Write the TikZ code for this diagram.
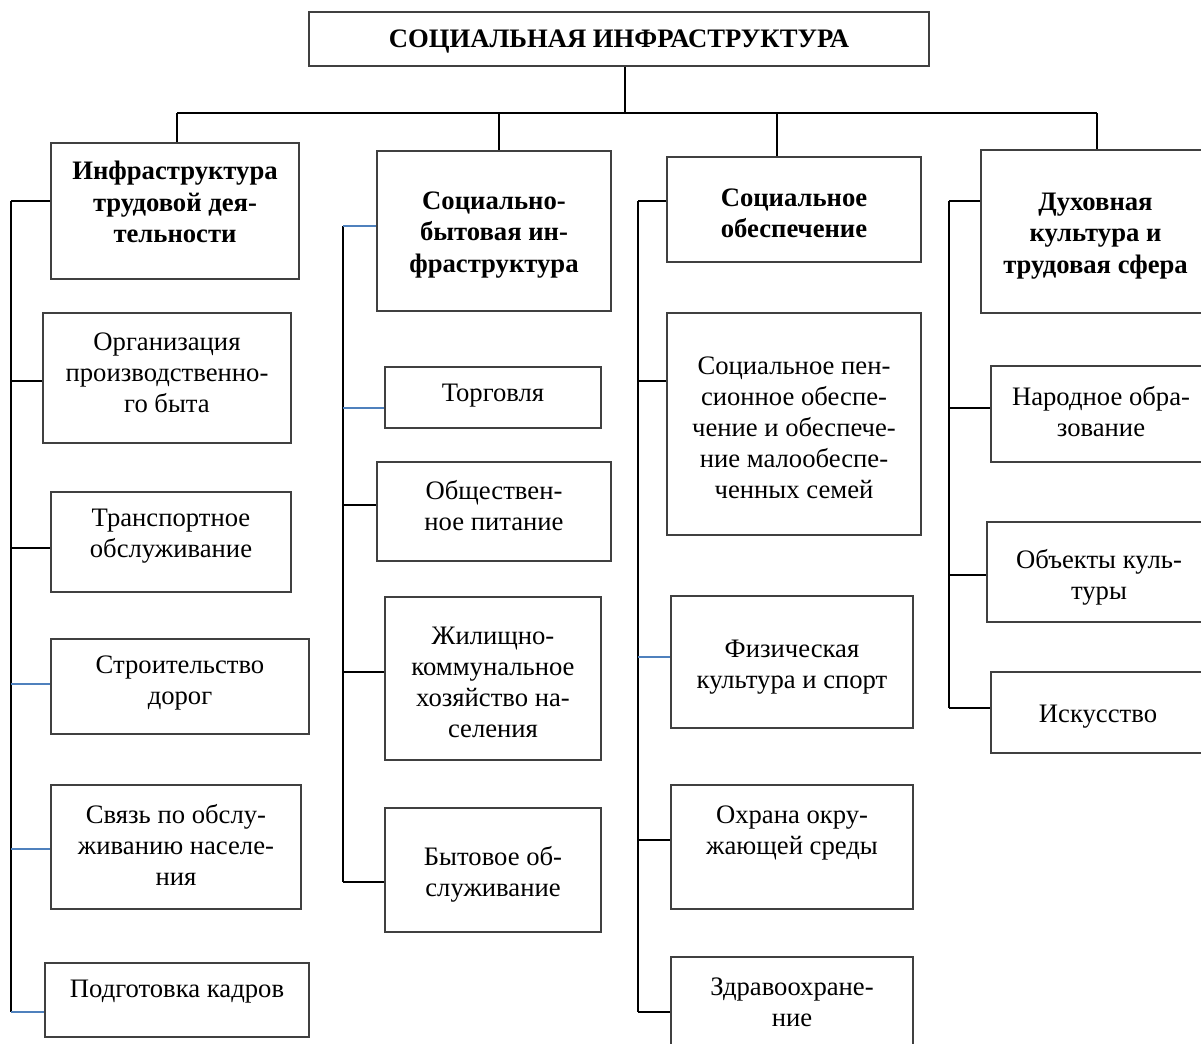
\documentclass[tikz,border=0pt]{standalone}
\usepackage{fontspec}
\setmainfont{Liberation Serif}
\usetikzlibrary{fit}
\definecolor{stubblue}{RGB}{79,129,189}
\definecolor{boxgray}{RGB}{64,64,64}
\tikzset{
  boxnode/.style={draw=boxgray, line width=0.8pt, inner sep=0pt},
  txt/.style={align=center, inner sep=0pt, yshift=-2pt, font=\fontsize{20}{23.25}\selectfont},
  hdr/.style={align=center, inner sep=0pt, yshift=-1.5pt, font=\fontsize{20}{23.6}\selectfont\bfseries},
  ttl/.style={align=center, inner sep=0pt, yshift=-1.5pt, font=\fontsize{20}{24}\selectfont\bfseries},
  conn/.style={black, line width=1.4pt},
  bconn/.style={stubblue, line width=1.2pt},
}
% \bx[style]{name}{x1}{y1}{x2}{y2}{ytext}{text}
\newcommand\bx[8][txt]{%
  \node[boxnode, fit={(#3,#4) (#5,#6)}] (#2) {};
  \node[#1] (#2-t) at ({(#3+#5)/2},#7) {#8};}
% \stubline{style}{spine}{box}{y}
\newcommand\stubline[4]{\draw[#1] (#2 |- 0,#4) -- (#3.west |- 0,#4);}
\begin{document}
\begin{tikzpicture}[x=0.75pt,y=-0.75pt]
\useasboundingbox (0,0) rectangle (1201,1043);
\clip (0,0) rectangle (1201,1043);

% title
\bx[ttl]{root}{309}{12}{929}{66}{40}{СОЦИАЛЬНАЯ ИНФРАСТРУКТУРА}

% column 1
\bx[hdr]{h1}{51}{143}{299}{279}{200}{Инфраструктура\\трудовой дея-\\тельности}
\bx{b1a}{43}{313}{291}{443}{370}{Организация\\производственно-\\го быта}
\bx{b1b}{51}{492}{291}{592}{533}{Транспортное\\обслуживание}
\bx{b1c}{51}{639}{309}{734}{680}{Строительство\\дорог}
\bx{b1d}{51}{785}{301}{909}{842}{Связь по обслу-\\живанию населе-\\ния}
\bx{b1e}{45}{963}{309}{1037}{989}{Подготовка кадров}

% column 2
\bx[hdr]{h2}{377}{151}{611}{311}{233}{Социально-\\бытовая ин-\\фраструктура}
\bx{b2a}{385}{367}{601}{428}{393}{Торговля}
\bx{b2b}{377}{462}{611}{561}{503}{Обществен-\\ное питание}
\bx{b2c}{385}{597}{601}{760}{679.5}{Жилищно-\\коммунальное\\хозяйство на-\\селения}
\bx{b2d}{385}{808}{601}{932}{871.5}{Бытовое об-\\служивание}

% column 3
\bx[hdr]{h3}{667}{157}{921}{262}{211.5}{Социальное\\обеспечение}
\bx{b3a}{667}{313}{921}{535}{425}{Социальное пен-\\сионное обеспе-\\чение и обеспече-\\ние малообеспе-\\ченных семей}
\bx{b3b}{671}{596}{913}{728}{664.5}{Физическая\\культура и спорт}
\bx{b3c}{671}{785}{913}{909}{830.5}{Охрана окру-\\жающей среды}
\bx{b3d}{671}{957}{913}{1060}{999.5}{Здравоохране-\\ние}

% column 4
\bx[hdr]{h4}{981}{150}{1210}{313}{234}{Духовная\\культура и\\трудовая сфера}
\bx{b4a}{991}{366}{1211}{462}{408.5}{Народное обра-\\зование}
\bx{b4b}{987}{522}{1211}{622}{574.5}{Объекты куль-\\туры}
\bx{b4c}{991}{672}{1205}{753}{714}{Искусство}

% top connectors
\coordinate (busM) at (625,113);
\coordinate (busL) at (177,113);
\coordinate (busR) at (1097,113);
\coordinate (d2) at (499,113);
\coordinate (d3) at (777,113);
\draw[conn] (root.south -| busM) -- (busM);
\draw[conn] (busL) -- (busR);
\draw[conn] (busL) -- (h1.north -| busL);
\draw[conn] (d2) -- (h2.north -| d2);
\draw[conn] (d3) -- (h3.north -| d3);
\draw[conn] (busR) -- (h4.north -| busR);

% spines
\coordinate (sp1) at (11,0);
\coordinate (sp2) at (343,0);
\coordinate (sp3) at (638,0);
\coordinate (sp4) at (949,0);
\draw[conn] (sp1 |- 0,201) -- (sp1 |- 0,1012);
\draw[conn] (sp2 |- 0,226) -- (sp2 |- 0,882);
\draw[conn] (sp3 |- 0,201) -- (sp3 |- 0,1012);
\draw[conn] (sp4 |- 0,201) -- (sp4 |- 0,708);

% column 1 stubs
\stubline{conn}{sp1}{h1}{201}
\stubline{conn}{sp1}{b1a}{381}
\stubline{conn}{sp1}{b1b}{548}
\stubline{bconn}{sp1}{b1c}{684}
\stubline{bconn}{sp1}{b1d}{849}
\stubline{bconn}{sp1}{b1e}{1012}

% column 2 stubs
\stubline{bconn}{sp2}{h2}{226}
\stubline{bconn}{sp2}{b2a}{408}
\stubline{conn}{sp2}{b2b}{505}
\stubline{conn}{sp2}{b2c}{672}
\stubline{conn}{sp2}{b2d}{882}

% column 3 stubs
\stubline{conn}{sp3}{h3}{201}
\stubline{conn}{sp3}{b3a}{381}
\stubline{bconn}{sp3}{b3b}{657}
\stubline{conn}{sp3}{b3c}{840}
\stubline{conn}{sp3}{b3d}{1012}

% column 4 stubs
\stubline{conn}{sp4}{h4}{201}
\stubline{conn}{sp4}{b4a}{408}
\stubline{conn}{sp4}{b4b}{575}
\stubline{conn}{sp4}{b4c}{708}
\end{tikzpicture}
\end{document}
